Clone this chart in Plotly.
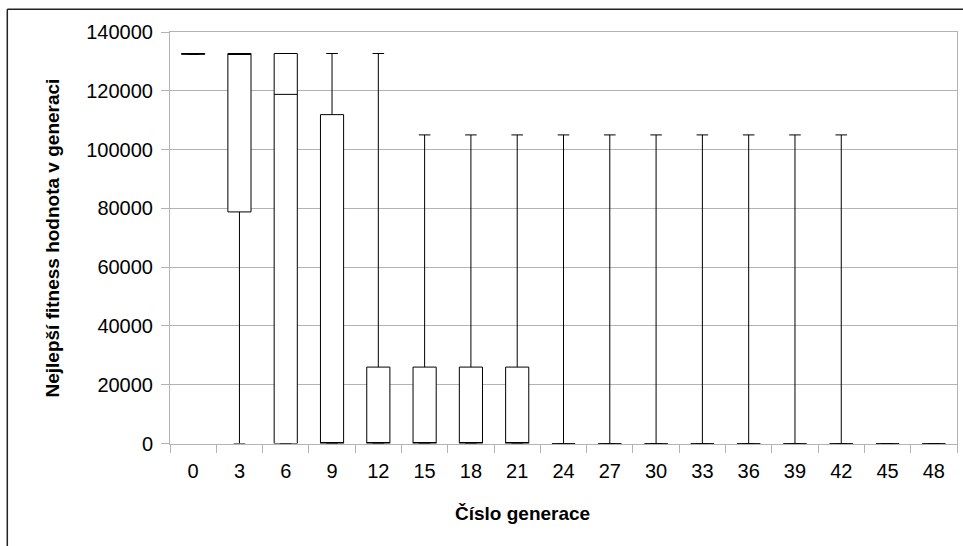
import plotly.graph_objects as go

# Generation numbers (category labels on the x axis)
generations = ["0", "3", "6", "9", "12", "15", "18", "21", "24",
               "27", "30", "33", "36", "39", "42", "45", "48"]

# Best-fitness statistics per generation
low = [132400, 0, 0, 0, 0, 0, 0, 0, 0, 0, 0, 0, 0, 0, 0, 0, 0]
q1 = [132400, 78800, 0, 0, 0, 0, 0, 0, 0, 0, 0, 0, 0, 0, 0, 0, 0]
median = [132700, 132700, 118800, 0, 0, 0, 0, 0, 0, 0, 0, 0, 0, 0, 0, 0, 0]
q3 = [132700, 132700, 132700, 111900, 26000, 26000, 26000, 26000,
      0, 0, 0, 0, 0, 0, 0, 0, 0]
high = [132700, 132700, 132700, 132700, 132700, 105000, 105000, 105000,
        105000, 105000, 105000, 105000, 105000, 105000, 105000, 0, 0]

y_ticks = [0, 20000, 40000, 60000, 80000, 100000, 120000, 140000]

W, H = 963, 546
ML, MR, MT, MB = 170, 6, 32, 102
PW, PH = W - ML - MR, H - MT - MB

# y axis spans pixel rows 32.05 .. 443.5 so the value lines land on pixel centres
Y_TOP, Y_BOT = 32.05, 443.5
y_domain = [(H - MB - Y_BOT) / PH, 1 - (Y_TOP - MT) / PH]


def px_x(x):
    return (x - ML) / PW


def px_y(y):
    return (H - MB - y) / PH


GRID = "#b3b3b3"
FONT = "Liberation Sans, Arial, sans-serif"

fig = go.Figure()
fig.add_trace(go.Box(
    x=generations,
    q1=q1, median=median, q3=q3,
    lowerfence=low, upperfence=high,
    width=0.5,
    whiskerwidth=0.5,
    fillcolor="white",
    line=dict(color="black", width=1),
    boxpoints=False,
    hoverinfo="skip",
    showlegend=False,
))

fig.update_layout(
    width=W, height=H,
    margin=dict(l=ML, r=MR, t=MT, b=MB, pad=0),
    paper_bgcolor="white",
    plot_bgcolor="white",
    font=dict(family=FONT, size=20, color="black"),
    xaxis=dict(
        type="category",
        categoryorder="array", categoryarray=generations,
        range=[-0.5, len(generations) - 0.5],
        showgrid=False,
        showline=True, linecolor=GRID, linewidth=1, mirror=True,
        ticks="outside", tickson="boundaries", ticklen=8,
        tickcolor=GRID, tickwidth=1,
        ticklabelstandoff=9,
        tickfont=dict(size=20, family=FONT, color="black"),
        zeroline=False,
    ),
    yaxis=dict(
        domain=y_domain,
        range=[0, 140000],
        tickvals=y_ticks,
        ticktext=[str(v) for v in y_ticks],
        showgrid=True, gridcolor=GRID, gridwidth=1,
        showline=True, linecolor=GRID, linewidth=1, mirror=True,
        ticks="outside", ticklen=8, tickcolor=GRID, tickwidth=1,
        ticklabelstandoff=4,
        tickfont=dict(size=20, family=FONT, color="black"),
        zeroline=False,
    ),
    annotations=[
        dict(text="<b>Číslo generace</b>", xref="paper", yref="paper",
             x=px_x(522), y=px_y(513), xanchor="center", yanchor="middle",
             showarrow=False, font=dict(size=19, family=FONT, color="black")),
        dict(text="<b>Nejlepší fitness hodnota v generaci</b>",
             xref="paper", yref="paper", textangle=-90,
             x=px_x(51.5), y=px_y(238), xanchor="center", yanchor="middle",
             showarrow=False, font=dict(size=19, family=FONT, color="black")),
    ],
    shapes=[
        # outer frame: top and left edges
        dict(type="line", xref="paper", yref="paper",
             x0=px_x(7.3), x1=px_x(W + 5), y0=px_y(9.3), y1=px_y(9.3),
             line=dict(color="#222222", width=1.5)),
        dict(type="line", xref="paper", yref="paper",
             x0=px_x(7.3), x1=px_x(7.3), y0=px_y(9.3), y1=px_y(H + 5),
             line=dict(color="#222222", width=1.5)),
    ],
)

fig.write_html("out.html")
